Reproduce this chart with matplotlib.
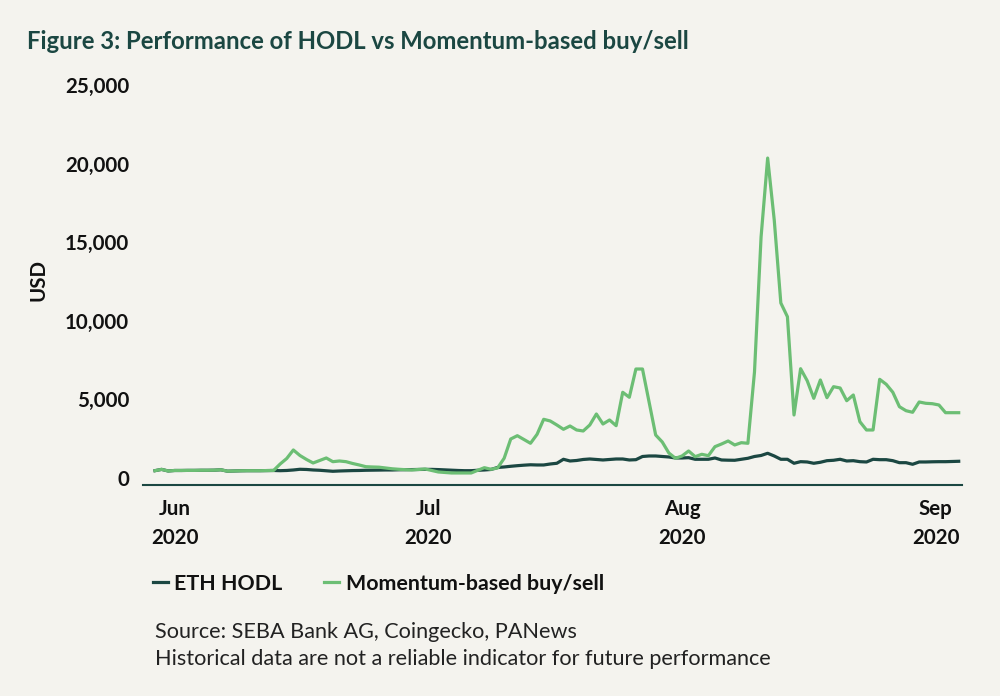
import matplotlib
matplotlib.use('Agg')
import matplotlib.pyplot as plt

plt.rcParams['font.family'] = ['Lato', 'DejaVu Sans']

BG = '#f4f3ee'
DARK = '#1b4742'
GREEN = '#6cbe74'

# daily values (USD)
eth_hodl = [
    465, 547, 445, 477, 477, 483, 483, 490, 490, 496,
    522, 432, 445, 458, 464, 464, 464, 471, 477, 464,
    477, 509, 553, 541, 509, 490, 458, 426, 445, 458,
    471, 477, 490, 496, 502, 509, 509, 522, 528, 534,
    541, 547, 547, 534, 515, 496, 477, 464, 464, 490,
    509, 541, 668, 700, 744, 782, 814, 840, 827, 827,
    890, 935, 1189, 1081, 1113, 1177, 1208, 1177, 1145, 1177,
    1208, 1208, 1145, 1164, 1367, 1399, 1399, 1367, 1336, 1272,
    1272, 1291, 1189, 1189, 1189, 1272, 1145, 1132, 1126, 1189,
    1253, 1367, 1431, 1571, 1399, 1189, 1189, 935, 1037, 1018,
    935, 999, 1100, 1126, 1189, 1081, 1100, 1037, 1018, 1189,
    1164, 1164, 1100, 973, 973, 871, 1018, 1018, 1030, 1037,
    1037, 1049, 1062,
]

momentum = [
    465, 547, 445, 477, 477, 483, 483, 490, 490, 496,
    522, 432, 445, 458, 464, 464, 464, 471, 477, 890,
    1240, 1781, 1431, 1177, 954, 1113, 1272, 1037, 1081, 1037,
    922, 827, 719, 700, 687, 636, 585, 553, 528, 509,
    541, 572, 477, 382, 350, 318, 318, 318, 318, 490,
    655, 553, 636, 1253, 2480, 2690, 2449, 2207, 2779, 3733,
    3625, 3371, 3097, 3307, 3053, 2989, 3371, 4070, 3434, 3689,
    3326, 5451, 5133, 6932, 6932, 4834, 2735, 2290, 1590, 1253,
    1399, 1717, 1355, 1507, 1418, 1991, 2162, 2353, 2099, 2245,
    2207, 6742, 15328, 20352, 16409, 11130, 10259, 4007, 6951, 6188,
    5069, 6233, 5107, 5807, 5724, 4916, 5279, 3581, 3053, 3053,
    6277, 5959, 5451, 4535, 4280, 4179, 4834, 4751, 4725, 4643,
    4153, 4153, 4153,
]

tick_labels = ['Jun\n2020', 'Jul\n2020', 'Aug\n2020', 'Sep\n2020']
tick_pos = [3.0, 41.5, 80.0, 118.5]
y_ticks = [0, 5000, 10000, 15000, 20000, 25000]

fig = plt.figure(figsize=(10, 6.96), dpi=100, facecolor=BG)
ax = fig.add_axes([0.143, 0.3032, 0.819, 0.5747])
ax.set_facecolor(BG)

days = list(range(len(eth_hodl)))
ax.plot(days, eth_hodl, color=DARK, lw=2.3, label='ETH HODL', solid_joinstyle='round')
ax.plot(days, momentum, color=GREEN, lw=2.3, label='Momentum-based buy/sell', solid_joinstyle='round')

ax.set_xlim(-1.82, 122.5)
ax.set_ylim(-445, 25000)

for s in ['top', 'right', 'left']:
    ax.spines[s].set_visible(False)
ax.spines['bottom'].set_color(DARK)
ax.spines['bottom'].set_linewidth(1.5)

ax.set_yticks(y_ticks)
ax.set_yticklabels([f'{v:,}' for v in y_ticks])
ax.set_xticks(tick_pos)
ax.set_xticklabels(tick_labels, linespacing=1.6)
ax.tick_params(axis='y', length=0, pad=10, labelsize=14.8)
ax.tick_params(axis='x', length=0, pad=10, labelsize=14.8)
for lab in ax.get_xticklabels() + ax.get_yticklabels():
    lab.set_fontweight('bold')
    lab.set_color('#111111')

fig.text(0.038, 0.597, 'USD', rotation=90, fontsize=14.8, fontweight='bold',
         color='#111111', ha='center', va='center')

fig.text(0.027, 0.94, 'Figure 3: Performance of HODL vs Momentum-based buy/sell',
         fontsize=17.2, fontweight='bold', color=DARK, ha='left', va='center')

leg = ax.legend(loc='center left', bbox_to_anchor=(0.153, 0.161),
                bbox_transform=fig.transFigure, ncol=2, frameon=False,
                handlelength=0.7, handletextpad=0.3, columnspacing=1.95,
                borderpad=0, borderaxespad=0, prop={'size': 15.4, 'weight': 'bold'})
for t in leg.get_texts():
    t.set_color('#111111')

fig.text(0.155, 0.092, 'Source: SEBA Bank AG, Coingecko, PANews',
         fontsize=15.6, color='#222222', ha='left', va='center')
fig.text(0.155, 0.053, 'Historical data are not a reliable indicator for future performance',
         fontsize=15.6, color='#222222', ha='left', va='center')

fig.savefig('out.png', dpi=100, facecolor=BG)
